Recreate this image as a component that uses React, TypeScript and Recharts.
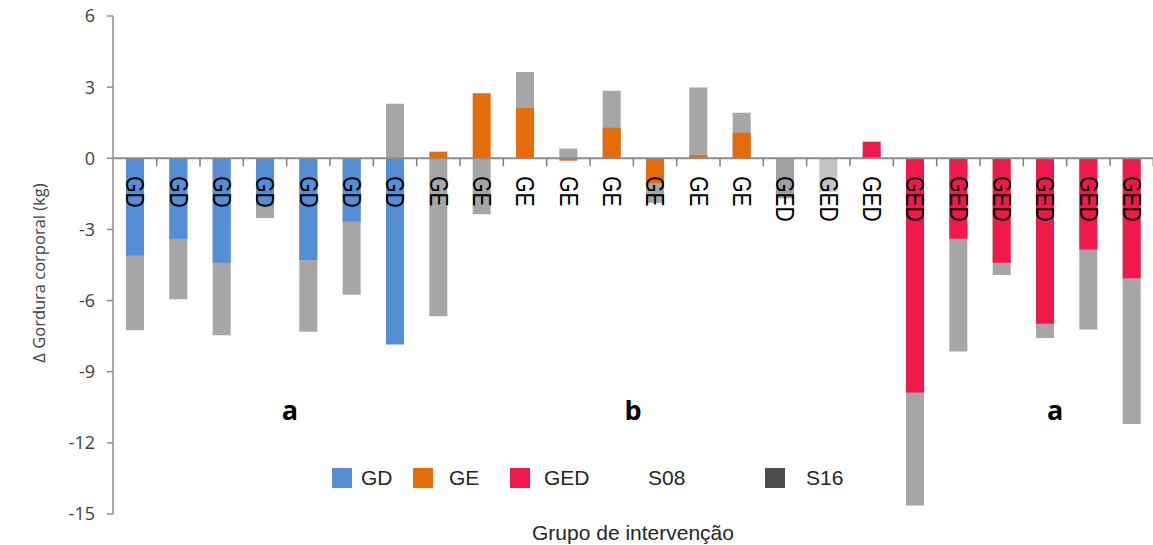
import {
  BarChart,
  Bar,
  XAxis,
  YAxis,
  Cell,
  LabelList,
  ReferenceLine,
  ReferenceDot,
} from 'recharts'

// page has an 8px body margin by default
if (typeof document !== 'undefined') document.body.style.margin = '0'

// ─── Data ────────────────────────────────────────────────────────────────────

const GROUPS = [
  'GD', 'GD', 'GD', 'GD', 'GD', 'GD', 'GD',
  'GE', 'GE', 'GE', 'GE', 'GE', 'GE', 'GE', 'GE',
  'GED', 'GED', 'GED', 'GED', 'GED', 'GED', 'GED', 'GED', 'GED',
]

// semana 8
const S08 = [
  -4.1, -3.39, -4.41, -2.0, -4.29, -2.67, -7.85,
  0.28, 2.74, 2.12, -0.1, 1.29, -1.05, 0.13, 1.08,
  0, 0, 0.7, -9.88, -3.39, -4.41, -6.98, -3.85, -5.06,
]

// semana 16 (GED 3 fica escondido atrás da barra vermelha)
const S16 = [
  -7.25, -5.94, -7.46, -2.52, -7.32, -5.75, 2.3,
  -6.66, -2.36, 3.64, 0.41, 2.85, -1.88, 2.98, 1.92,
  -1.69, -1.41, 0.35, -14.64, -8.15, -4.92, -7.58, -7.22, -11.21,
]

const Y_TICKS = [-15, -12, -9, -6, -3, 0, 3, 6]

const LEGEND_LABELS = ['GD', 'GE', 'GED', 'S08', 'S16']

// letras de significância
const ANNOT_TEXT = ['a', 'b', 'a']
const ANNOT_AT = [3, 11, 21]
const ANNOT_Y = [-11.05, -11.05, -11.05]

// ─── Layout / style ─────────────────────────────────────────────────────────

const W = 1153
const H = 545
const Y_AXIS_W = 113
const PLOT_W = W - Y_AXIS_W
const BAND = PLOT_W / GROUPS.length
const ANNOT_SHIFT = [0.58, 0.5, 0.24]

const GROUP_COLORS: Record<string, string> = {
  GD: '#558ed5',
  GE: '#e46c0a',
  GED: '#ed1a4b',
}
const GRAY = '#a6a6a6'
const S16_OVERRIDE: Record<number, string> = { 15: '#a0a0a0', 16: '#c3c3c3' }
const AXIS_COLOR = '#8c8c8c'

const LEGEND_COLORS = ['#558ed5', '#e46c0a', '#ed1a4b', 'transparent', '#4d4d4d']
const LEGEND_X = [332, 413, 510, 606, 765]
const LEGEND_GAP = [9, 16, 14, 22, 21]

const rows = GROUPS.map((g, i) => ({
  id: `${g}-${i}`,
  group: g,
  s08: S08[i],
  s16: S16[i],
}))

// ─── Category labels on the zero line ───────────────────────────────────────

// eslint-disable-next-line @typescript-eslint/no-explicit-any
function CategoryTick(props: any) {
  // recharts 3 hands the bar rect over as viewBox
  const vb = props.viewBox ?? props
  const { x, y, width, height } = vb
  const index = props.index
  if (x == null || y == null || index == null) return null
  // the zero line is the end of the gray bar that is not its value
  const top = Math.min(y, y + height)
  const bottom = Math.max(y, y + height)
  const zero = S16[index] >= 0 ? bottom : top
  const cx = x + width / 2
  const right = cx + BAND / 2
  return (
    <g>
      <line x1={right} x2={right} y1={zero} y2={zero + 8} stroke="#7f7f7f" strokeWidth={1.5} />
      <text
        transform={`translate(${cx},${zero + 18}) rotate(90) scale(0.84,1)`}
        dominantBaseline="central"
        fontSize={25}
        fontFamily="Liberation Sans, Arial, sans-serif"
        fill="#000"
      >
        {GROUPS[index]}
      </text>
    </g>
  )
}

// eslint-disable-next-line @typescript-eslint/no-explicit-any
function YTitle(props: any) {
  const vb = props.viewBox
  const cx = vb.x + 38
  const cy = vb.y + vb.height / 2 + 8
  return (
    <text
      transform={`translate(${cx},${cy}) rotate(-90)`}
      textAnchor="middle"
      dominantBaseline="central"
      fontSize={16.5}
      fontFamily="Open Sans, sans-serif"
      fill="#404040"
    >
      Δ Gordura corporal (kg)
    </text>
  )
}

// ─── Main ────────────────────────────────────────────────────────────────────

export default function App() {
  return (
    <div style={{ position: 'relative', width: W, height: H, background: '#fff' }}>
      <BarChart
        width={W}
        height={H}
        data={rows}
        margin={{ top: 16, right: 0, bottom: 31, left: 0 }}
        barSize={18}
        barGap={-18}
      >
        <XAxis dataKey="id" hide />
        <YAxis
          domain={[-15, 6]}
          ticks={Y_TICKS}
          interval={0}
          width={Y_AXIS_W}
          tickSize={6}
          tickMargin={12}
          axisLine={{ stroke: AXIS_COLOR, strokeWidth: 1.5 }}
          tickLine={{ stroke: AXIS_COLOR, strokeWidth: 1.5 }}
          tick={{ fontSize: 18, fill: '#404040', fontFamily: 'Open Sans, sans-serif' }}
          label={{ content: YTitle }}
        />
        <Bar dataKey="s16" isAnimationActive={false}>
          {rows.map((r, i) => (
            <Cell key={r.id} fill={S16_OVERRIDE[i] ?? GRAY} />
          ))}
        </Bar>
        <Bar dataKey="s08" isAnimationActive={false}>
          {rows.map((r) => (
            <Cell key={r.id} fill={GROUP_COLORS[r.group]} />
          ))}
        </Bar>
        <ReferenceLine y={0} stroke={AXIS_COLOR} strokeWidth={2} />
        {/* category names drawn from the gray bars, on top of everything */}
        <Bar dataKey="s16" fill="none" isAnimationActive={false} legendType="none">
          <LabelList dataKey="group" content={CategoryTick} />
        </Bar>
        {ANNOT_TEXT.map((t, i) => (
          <ReferenceDot
            key={i}
            x={rows[ANNOT_AT[i]].id}
            y={ANNOT_Y[i]}
            r={0}
            // eslint-disable-next-line @typescript-eslint/no-explicit-any
            shape={(p: any) => (
              <text
                x={p.cx + ANNOT_SHIFT[i] * BAND}
                y={p.cy}
                textAnchor="middle"
                fontSize={27}
                fontWeight={700}
                fontFamily="Open Sans, sans-serif"
                fill="#000"
              >
                {t}
              </text>
            )}
          />
        ))}
      </BarChart>

      {/* legenda */}
      {LEGEND_LABELS.map((lab, i) => (
        <div
          key={lab}
          style={{
            position: 'absolute',
            left: LEGEND_X[i],
            top: 467,
            display: 'flex',
            alignItems: 'center',
            gap: LEGEND_GAP[i],
            fontFamily: 'Liberation Sans, Arial, sans-serif',
            fontSize: 21,
            color: '#262626',
            lineHeight: '21px',
          }}
        >
          <span style={{ width: 20, height: 20, background: LEGEND_COLORS[i], display: 'inline-block' }} />
          <span>{lab}</span>
        </div>
      ))}

      {/* título do eixo x */}
      <div
        style={{
          position: 'absolute',
          left: 0,
          width: 2 * 633,
          top: 521,
          textAlign: 'center',
          fontFamily: 'Liberation Sans, Arial, sans-serif',
          fontSize: 21,
          color: '#262626',
          lineHeight: '24px',
        }}
      >
        Grupo de intervenção
      </div>
    </div>
  )
}
